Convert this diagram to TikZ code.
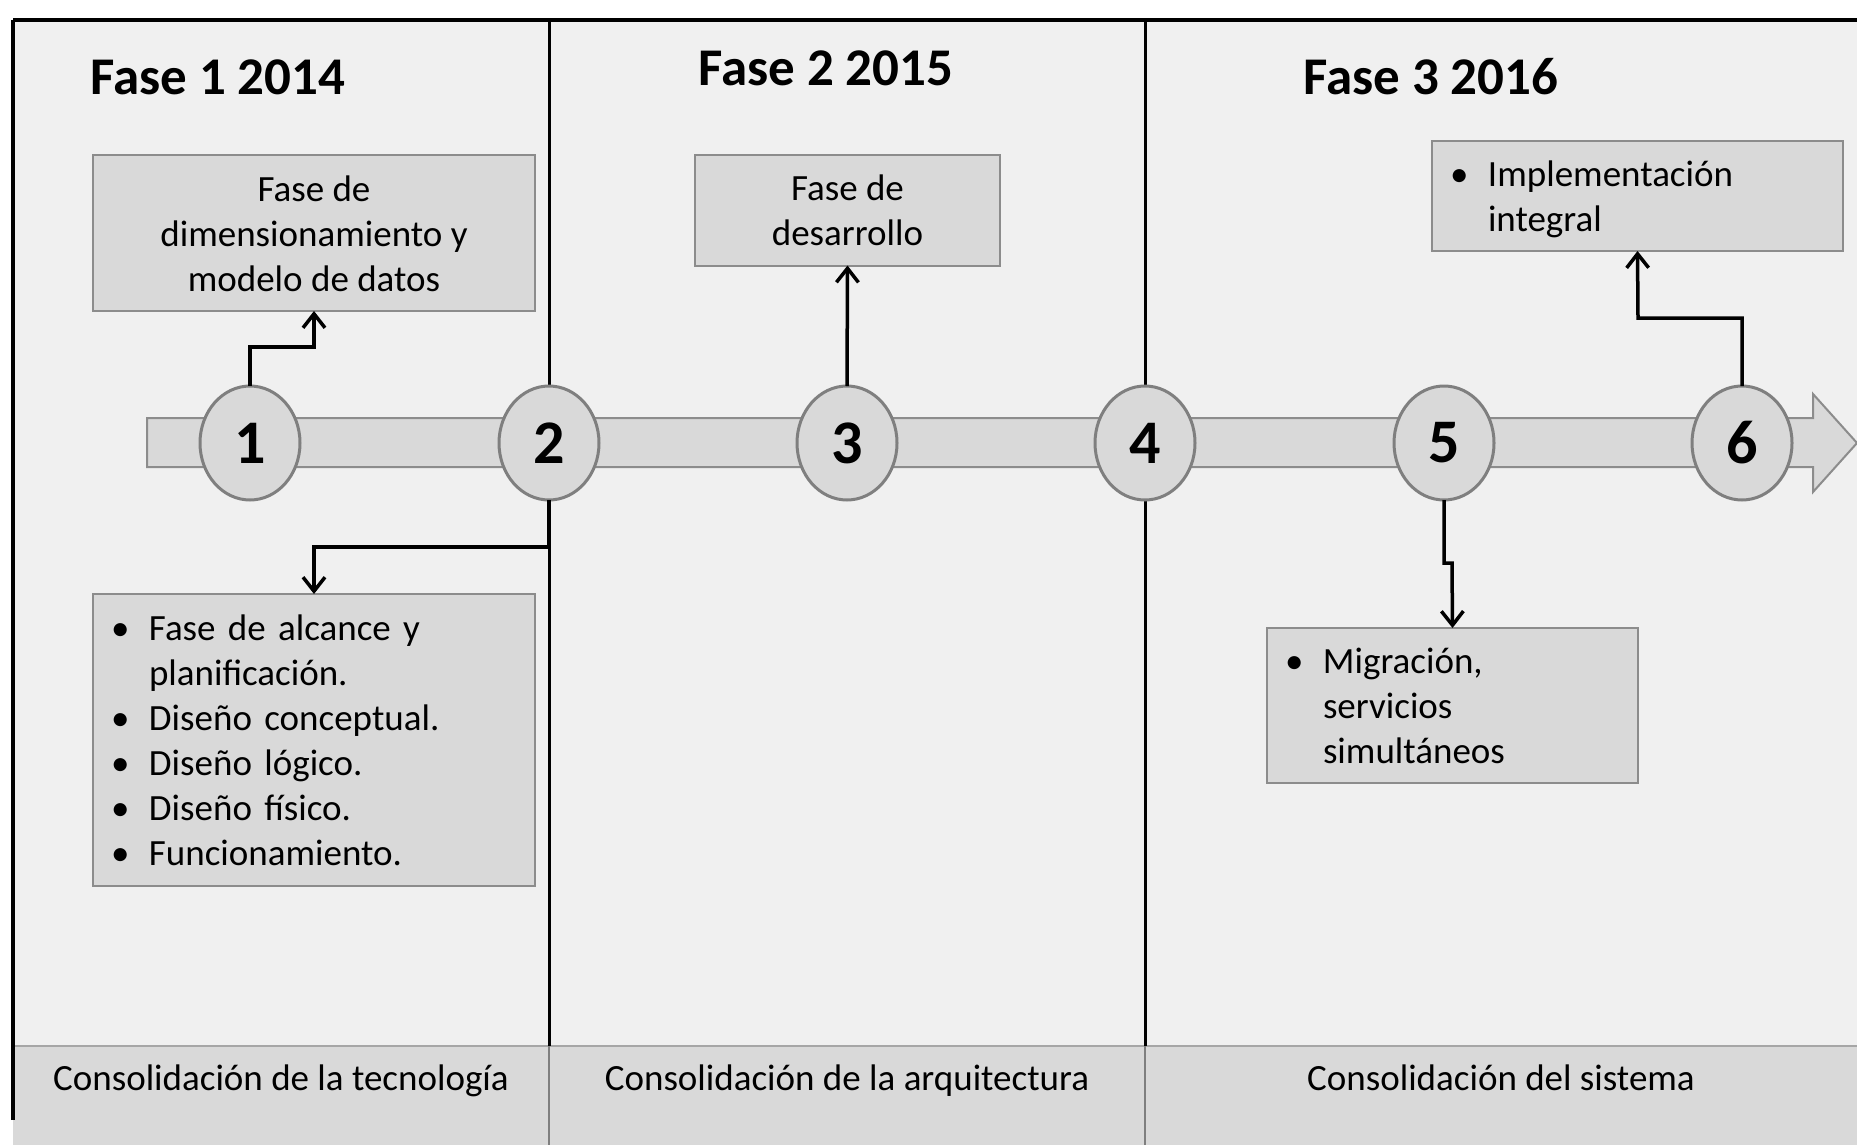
\documentclass[tikz,border=0pt]{standalone}
\usepackage{fontspec}
\setmainfont{Carlito}
\usetikzlibrary{arrows.meta,shapes.geometric,calc}
\definecolor{panelbg}{HTML}{F0F0F0}
\definecolor{boxfill}{HTML}{D9D9D9}
\definecolor{boxline}{HTML}{8C8C8C}
\definecolor{ringline}{HTML}{7F7F7F}
\definecolor{bandline}{HTML}{A6A6A6}
\newcommand{\bodyfont}{\fontsize{37}{45}\selectfont}
\newcommand{\blt}{\textbullet}
\newcommand{\lowered}[1]{\raisebox{0pt}[\dimexpr\height+4pt\relax][\dimexpr\depth-4pt\relax]{#1}}
\begin{document}
\begin{tikzpicture}[x=1pt,y=-1pt,
  framel/.style={line width=3.5pt,black},
  divl/.style={line width=3pt,black},
  infobox/.style={draw=boxline,line width=2pt,fill=boxfill,rectangle,inner ysep=0pt,outer sep=0pt,font=\bodyfont},
  leftbox/.style={infobox,inner xsep=18pt,align=left},
  milestone/.style={ellipse,draw=ringline,line width=3pt,fill=boxfill,inner sep=0pt,outer sep=0pt,minimum width=100pt,minimum height=114pt,font=\fontsize{62}{62}\selectfont\bfseries},
  title/.style={font=\fontsize{53}{60}\selectfont\bfseries,inner sep=0pt,anchor=base west},
  bandlabel/.style={font=\bodyfont,inner sep=0pt,anchor=base},
  conn/.style={line width=3.5pt,black,-{Straight Barb[length=14pt,width=22pt]}}
]
\useasboundingbox (0,0) rectangle (1857,1145);
\fill[white] (0,0) rectangle (1857,1145);
\fill[panelbg] (13,20) rectangle (1857,1046);
\fill[boxfill] (13,1046) rectangle (1857,1145);
\draw[bandline,line width=2pt] (13,1046) -- (1857,1046);
\draw[framel] (13,20) -- (1857,20);
\draw[framel] (13,20) -- (13,1120);
\draw[divl] (549,20) -- (549,1046);
\draw[divl] (1145,20) -- (1145,1046);
\draw[ringline,line width=2pt] (549,1046) -- (549,1145) (1145,1046) -- (1145,1145);

% timeline arrow
\draw[boxline,line width=2pt,fill=boxfill] (147,418) -- (1813,418) -- (1813,394) -- (1857,443) -- (1813,492) -- (1813,467) -- (147,467) -- cycle;

% milestones
\foreach \i/\x in {1/250,2/549,3/847,4/1145,5/1444,6/1742}
  \node[milestone] (e\i) at (\x,443) {\i};

% titles
\node[title] (t1) at (90,95) {Fase 1 2014};
\node[title] (t2) at (698,86) {Fase 2 2015};
\node[title] (t3) at (1303,95) {Fase 3 2016};

% boxes
\node[infobox,inner xsep=0pt,minimum width=442pt,minimum height=156pt] (b1) at (314,233)
  {\lowered{\begin{tabular}{@{}c@{}}Fase de\\dimensionamiento y\\modelo de datos\end{tabular}}};
\node[infobox,inner xsep=0pt,minimum width=305pt,minimum height=111pt] (b3) at (847.5,210)
  {\lowered{\begin{tabular}{@{}c@{}}Fase de\\desarrollo\end{tabular}}};
\node[leftbox,text width=375pt,minimum height=110pt] (b6) at (1637.5,196)
  {\lowered{\begin{tabular}{@{}p{38pt}@{}l@{}}\blt & Implementación\\ & integral\end{tabular}}};
\node[leftbox,text width=406pt,minimum height=292pt] (b2) at (314,740)
  {\lowered{\begin{tabular}{@{}p{38pt}@{}l@{}}\blt & Fase de alcance y\\ & planificación.\\ \blt & Diseño conceptual.\\ \blt & Diseño lógico.\\ \blt & Diseño físico.\\ \blt & Funcionamiento.\end{tabular}}};
\node[leftbox,text width=335pt,minimum height=155pt] (b5) at (1452.5,705.5)
  {\lowered{\begin{tabular}{@{}p{38pt}@{}l@{}}\blt & Migración,\\ & servicios\\ & simultáneos\end{tabular}}};

% connectors
\coordinate (k1) at (314,347);
\coordinate (k2) at (314,547);
\coordinate (k5) at (1452,563);
\coordinate (k6) at (1638,318);
\draw[conn] (e1.north) |- (k1) -- (b1.south);
\draw[conn] (e2.south) |- (k2) -- (b2.north);
\draw[conn] (e3.north) -- (b3.south);
\draw[conn] (e5.south) |- (k5) -- (b5.north);
\draw[conn] (e6.north) |- (k6) -- (b6.south);

% band labels
\node[bandlabel] (l1) at (281,1090) {Consolidación de la tecnología};
\node[bandlabel] (l2) at (847,1090) {Consolidación de la arquitectura};
\node[bandlabel] (l3) at (1501,1090) {Consolidación del sistema};
\end{tikzpicture}
\end{document}
